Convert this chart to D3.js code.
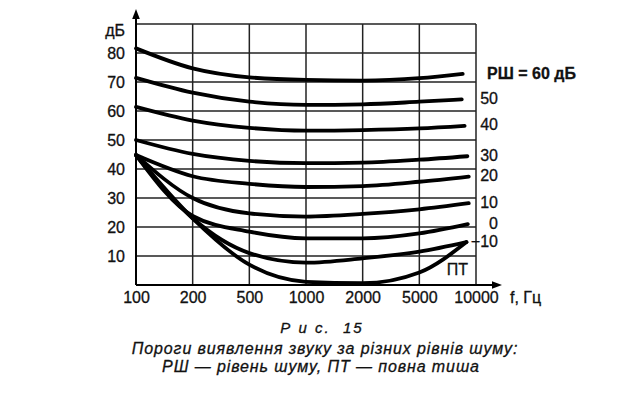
<!DOCTYPE html>
<html>
<head>
<meta charset="utf-8">
<script src="https://cdn.jsdelivr.net/npm/d3@7"></script>
<style>
  body { margin: 0; background: #fff; }
  svg { display: block; }
  text { font-family: "Liberation Sans", Arial, sans-serif; fill: #111; stroke: #111; stroke-width: 0.3px; }
</style>
</head>
<body>
<div id="chart"></div>
<script>
// frequency ticks (equally spaced on the picture)
var freqTicks = [100, 200, 500, 1000, 2000, 5000, 10000];
var dbTicks = [10, 20, 30, 40, 50, 60, 70, 80];
var dbGrid = [10, 20, 30, 40, 50, 60, 70, 80, 90];

// curves are read at 100..5000 Hz, then at their own end frequency
var freqs = [100, 200, 500, 1000, 2000, 5000];
var noiseLabels = ["РШ = 60 дБ", "50", "40", "30", "20", "10", "0", "\u221210", "ПТ"];
var endFreq = [8500, 8400, 8700, 9000, 9150, 9150, 9050, 8900, 8900];

var thr60 = [81.6, 74.7, 71.6, 70.7, 70.5, 71.3, 72.8];
var thr50 = [71.4, 66.3, 63.2, 62.1, 62.3, 63.2, 64.0];
var thr40 = [61.4, 56.7, 54.2, 53.2, 53.4, 54.0, 54.9];
var thr30 = [50.0, 45.2, 42.8, 42.0, 42.2, 43.2, 44.4];
var thr20 = [44.8, 37.5, 34.9, 33.8, 34.1, 35.6, 37.4];
var thr10 = [44.8, 30.0, 24.7, 23.6, 24.5, 26.1, 28.2];
var thr0 = [44.8, 23.8, 18.4, 16.1, 16.1, 17.8, 21.0];
var thrM10 = [44.8, 23.0, 11.0, 7.7, 9.2, 11.5, 14.8];
var thrPT = [44.8, 23.0, 7.0, 1.1, 0.6, 4.3, 14.8];

var allSeries = [thr60, thr50, thr40, thr30, thr20, thr10, thr0, thrM10, thrPT];

var captionLines = [
  "Р\u00a0и\u00a0с.\u00a0\u00a015",
  "Пороги виявлення звуку за різних рівнів шуму:",
  "РШ — рівень шуму, ПТ — повна тиша"
];

var svgWidth = 644;
var svgHeight = 394;
var plotL = 136, plotR = 476, plotT = 24, plotB = 285;
var step = (plotR - plotL) / (freqTicks.length - 1);

var svg = d3.select("#chart")
  .append("svg")
  .attr("width", svgWidth)
  .attr("height", svgHeight);

// piecewise log scale so every tick sits on an equal step
var x = d3.scaleLog()
  .domain(freqTicks)
  .range(freqTicks.map(function(d, i) { return plotL + i * step; }));

var y = d3.scaleLinear()
  .domain([0, 90])
  .range([plotB, plotT]);

// grid
svg.append("g").selectAll("line")
  .data(dbGrid)
  .enter()
  .append("line")
  .attr("x1", plotL).attr("x2", plotR)
  .attr("y1", d => y(d)).attr("y2", d => y(d))
  .attr("stroke", "#222")
  .attr("stroke-width", 1.5);

svg.append("g").selectAll("line")
  .data(freqTicks.slice(1))
  .enter()
  .append("line")
  .attr("x1", d => x(d)).attr("x2", d => x(d))
  .attr("y1", y(90)).attr("y2", y(0))
  .attr("stroke", "#222")
  .attr("stroke-width", 1.5);

// axes with arrows
svg.append("line")
  .attr("x1", plotL).attr("x2", plotL)
  .attr("y1", plotB).attr("y2", 16)
  .attr("stroke", "#000").attr("stroke-width", 2);
svg.append("path")
  .attr("d", `M${plotL},9 L${plotL - 3.8},19 L${plotL + 3.8},19 Z`)
  .attr("fill", "#000");

svg.append("line")
  .attr("x1", plotL).attr("x2", 494)
  .attr("y1", plotB).attr("y2", plotB)
  .attr("stroke", "#000").attr("stroke-width", 2);
svg.append("path")
  .attr("d", `M502,${plotB} L492,${plotB - 3.8} L492,${plotB + 3.8} Z`)
  .attr("fill", "#000");

// tick labels
var leftAxis = d3.axisLeft(y).tickValues(dbTicks).tickSize(0).tickPadding(11);
var gy = svg.append("g")
  .attr("transform", `translate(${plotL},0)`)
  .call(leftAxis);
gy.select(".domain").remove();
gy.selectAll("text")
  .attr("font-size", "16px")
  .attr("font-family", "Liberation Sans, Arial, sans-serif")
  .attr("fill", "#111");

var bottomAxis = d3.axisBottom(x).tickValues(freqTicks).tickFormat(d3.format("d")).tickSize(0).tickPadding(7);
var gx = svg.append("g")
  .attr("transform", `translate(0,${plotB})`)
  .call(bottomAxis);
gx.select(".domain").remove();
gx.selectAll("text")
  .attr("font-size", "16px")
  .attr("font-family", "Liberation Sans, Arial, sans-serif")
  .attr("fill", "#111");

svg.append("text")
  .attr("x", 125).attr("y", y(90) + 6)
  .attr("dy", "0.35em")
  .attr("text-anchor", "end")
  .attr("font-size", "16px")
  .text("дБ");

svg.append("text")
  .attr("x", 510).attr("y", plotB + 7)
  .attr("dy", "0.71em")
  .attr("font-size", "16px")
  .text("f, Гц");

// curves
var line = d3.line()
  .x(d => x(d[0]))
  .y(d => y(d[1]))
  .curve(d3.curveMonotoneX);

allSeries.forEach(function(vals, i) {
  var pts = freqs.map(function(f, j) { return [f, vals[j]]; });
  pts.push([endFreq[i], vals[vals.length - 1]]);
  svg.append("path")
    .attr("d", line(pts))
    .attr("fill", "none")
    .attr("stroke", "#000")
    .attr("stroke-width", 3.8)
    .attr("stroke-linecap", "round");
});

// curve labels on the right
allSeries.forEach(function(vals, i) {
  var lab = noiseLabels[i];
  var yEnd = y(vals[vals.length - 1]);
  if (i === 0) {
    svg.append("text")
      .attr("x", x(10000) + 11).attr("y", yEnd)
      .attr("dy", "0.35em")
      .attr("font-size", "16px")
      .attr("font-weight", 700)
      .text(lab);
  } else if (lab === "ПТ") {
    svg.append("text")
      .attr("x", x(10000) - 8).attr("y", y(5.5))
      .attr("dy", "0.35em")
      .attr("text-anchor", "end")
      .attr("font-size", "16px")
      .text(lab);
  } else {
    svg.append("text")
      .attr("x", x(10000) + 22).attr("y", yEnd - 1)
      .attr("dy", "0.35em")
      .attr("text-anchor", "end")
      .attr("font-size", "16px")
      .text(lab);
  }
});

// caption
svg.append("text")
  .attr("x", 322).attr("y", 333)
  .attr("text-anchor", "middle")
  .attr("font-size", "15px")
  .attr("font-style", "italic")
  .attr("letter-spacing", "2px")
  .text(captionLines[0]);

svg.append("text")
  .attr("x", 325).attr("y", 354)
  .attr("text-anchor", "middle")
  .attr("font-size", "16px")
  .attr("font-style", "italic")
  .attr("letter-spacing", "0.9px")
  .text(captionLines[1]);

svg.append("text")
  .attr("x", 321).attr("y", 372)
  .attr("text-anchor", "middle")
  .attr("font-size", "16px")
  .attr("font-style", "italic")
  .attr("letter-spacing", "0.9px")
  .text(captionLines[2]);
</script>
</body>
</html>
